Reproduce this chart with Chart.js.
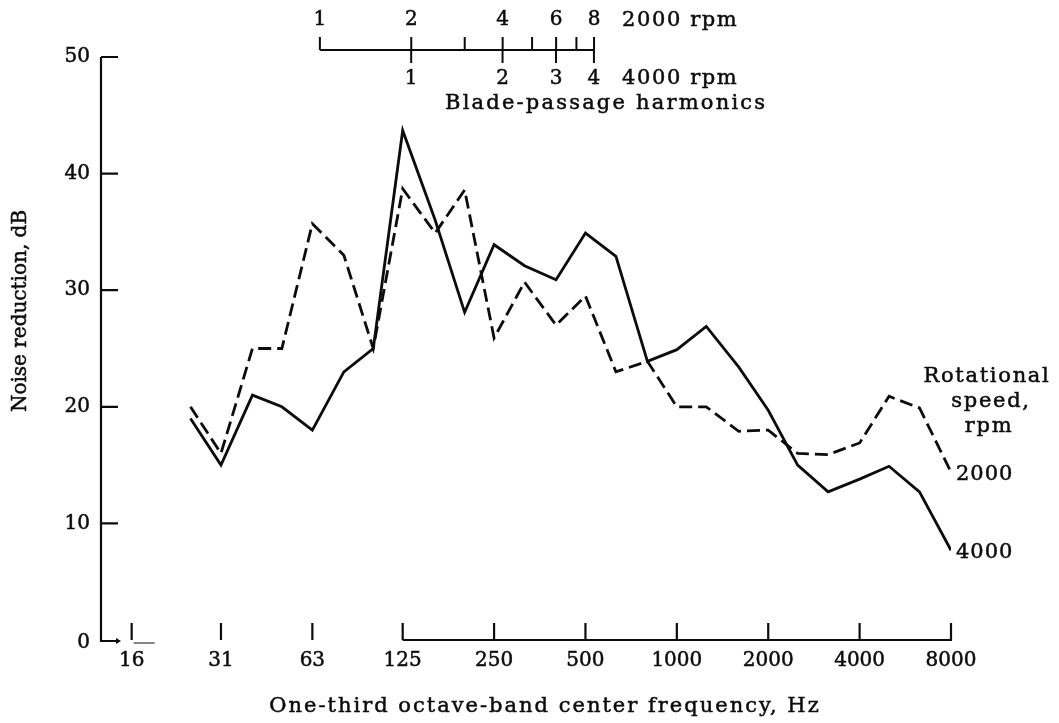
<!DOCTYPE html>
<html>
<head>
<meta charset="utf-8">
<script src="https://cdn.jsdelivr.net/npm/chart.js@4.4.1/dist/chart.umd.min.js"></script>
<style>
  html, body { margin: 0; padding: 0; background: #fff; }
  #wrap { width: 1059px; height: 723px; }
</style>
</head>
<body>
<div id="wrap"><canvas id="noiseChart" width="1059" height="723"></canvas></div>
<script>
// one-third octave band centre frequencies, Hz
const bandFreqs = [25, 31.5, 40, 50, 63, 80, 100, 125, 160, 200, 250, 315, 400, 500,
    630, 800, 1000, 1250, 1600, 2000, 2500, 3150, 4000, 5000, 6300, 8000];

// noise reduction, dB
const reduction4000 = [19, 15, 21, 20, 18, 23, 25, 43.7, 36, 28.1, 33.9, 32.1, 30.9, 34.9,
    32.9, 23.9, 24.9, 26.9, 23.4, 19.7, 15, 12.7, 13.8, 14.9, 12.7, 7.7];
const reduction2000 = [20, 16, 25, 25, 35.7, 33, 25, 38.7, 34.9, 38.6, 25.9, 30.7, 27, 29.5,
    23, 23.9, 20, 20, 17.9, 18, 16, 15.9, 16.9, 20.9, 19.9, 14.4];

// axis ticks
const xTickFreqs = [16, 31.5, 63, 125, 250, 500, 1000, 2000, 4000, 8000];
const xTickLabels = ['16', '31', '63', '125', '250', '500', '1000', '2000', '4000', '8000'];
const yTicks = [0, 10, 20, 30, 40, 50];

// blade-passage frequency (2 blades) and harmonic numbers
const bladeFreq2000 = 66.7;
const bladeFreq4000 = 133.3;
const harmonics2000 = [1, 2, 3, 4, 5, 6, 7, 8];
const harmonicLabels2000 = [1, 2, 4, 6, 8];
const harmonics4000 = [1, 2, 3, 4];

const INK = '#0c0c0c';
const NUM_FONT = '20px "DejaVu Serif"';
const TEXT_FONT = '21px "DejaVu Serif"';

function toPoints(ys) {
    return bandFreqs.map((f, i) => ({ x: f, y: ys[i] }));
}

// filled text with a hairline stroke so it reads as heavy as printed type
function inkText(ctx, str, x, y) {
    ctx.fillText(str, x, y);
    ctx.strokeText(str, x, y);
}

const axesPlugin = {
    id: 'paperAxes',
    afterDraw(chart) {
        const ctx = chart.ctx;
        const xs = chart.scales.x;
        const ys = chart.scales.y;
        const area = chart.chartArea;
        const bottom = ys.getPixelForValue(0);
        const left = area.left;

        ctx.save();
        ctx.strokeStyle = INK;
        ctx.fillStyle = INK;
        ctx.lineWidth = 2.2;
        ctx.lineCap = 'butt';

        // y axis with inward ticks
        ctx.beginPath();
        ctx.moveTo(left, ys.getPixelForValue(50));
        ctx.lineTo(left, bottom + 1);
        ctx.lineTo(left + 17, bottom + 1);
        yTicks.forEach(v => {
            if (v === 0) return;
            const y = ys.getPixelForValue(v);
            ctx.moveTo(left, y);
            ctx.lineTo(left + 17, y);
        });
        ctx.stroke();
        ctx.beginPath();
        ctx.moveTo(left + 20, bottom + 1);
        ctx.lineTo(left + 15, bottom - 2);
        ctx.lineTo(left + 15, bottom + 4);
        ctx.closePath();
        ctx.fill();

        // x axis: upward ticks, line only from 125 Hz on
        ctx.beginPath();
        xTickFreqs.forEach(f => {
            const x = xs.getPixelForValue(f);
            ctx.moveTo(x, bottom - 17);
            ctx.lineTo(x, bottom);
        });
        ctx.moveTo(xs.getPixelForValue(125), bottom);
        ctx.lineTo(xs.getPixelForValue(8000) + 1, bottom);
        ctx.stroke();
        ctx.lineWidth = 1;
        ctx.beginPath();
        const x16 = xs.getPixelForValue(16);
        ctx.moveTo(x16 + 2, bottom + 3);
        ctx.lineTo(x16 + 23, bottom + 3);
        ctx.stroke();

        // blade-passage harmonic scale
        const lineY = 50;
        const hx2000 = h => xs.getPixelForValue(h * bladeFreq2000);
        const hx4000 = h => xs.getPixelForValue(h * bladeFreq4000);
        ctx.lineWidth = 2;
        ctx.beginPath();
        ctx.moveTo(hx2000(1), lineY);
        ctx.lineTo(hx2000(8), lineY);
        harmonics2000.forEach(h => {
            ctx.moveTo(hx2000(h), lineY - 13);
            ctx.lineTo(hx2000(h), lineY);
        });
        harmonics4000.forEach(h => {
            ctx.moveTo(hx4000(h), lineY);
            ctx.lineTo(hx4000(h), lineY + 13);
        });
        ctx.stroke();

        // numbers
        ctx.lineWidth = 0.5;
        ctx.font = NUM_FONT;
        ctx.textAlign = 'right';
        ctx.textBaseline = 'middle';
        yTicks.forEach(v => {
            inkText(ctx, String(v), left - 11, ys.getPixelForValue(v) + (v === 0 ? 3 : 0));
        });
        ctx.textAlign = 'center';
        xTickFreqs.forEach((f, i) => {
            inkText(ctx, xTickLabels[i], xs.getPixelForValue(f), bottom + 21);
        });
        harmonicLabels2000.forEach(h => inkText(ctx, String(h), hx2000(h), 20));
        harmonics4000.forEach(h => inkText(ctx, String(h), hx4000(h), 79));

        // axis titles
        ctx.font = '20px "DejaVu Serif"';
        ctx.save();
        ctx.translate(21, 311);
        ctx.rotate(-Math.PI / 2);
        inkText(ctx, 'Noise reduction, dB', 0, 0);
        ctx.restore();

        ctx.font = TEXT_FONT;
        ctx.letterSpacing = '2px';
        inkText(ctx, 'One-third octave-band center frequency, Hz', 545, 707);

        ctx.textAlign = 'left';
        ctx.letterSpacing = '1.6px';
        inkText(ctx, '2000 rpm', hx2000(8) + 28, 21);
        inkText(ctx, '4000 rpm', hx2000(8) + 28, 79);
        ctx.letterSpacing = '2.2px';
        inkText(ctx, 'Blade-passage harmonics', 445, 104);

        // curve labels
        ctx.letterSpacing = '1.7px';
        ctx.textAlign = 'center';
        inkText(ctx, 'Rotational', 987, 377);
        inkText(ctx, 'speed,', 991, 402);
        inkText(ctx, 'rpm', 989, 427);
        ctx.textAlign = 'left';
        ctx.letterSpacing = '1px';
        inkText(ctx, '2000', 956, ys.getPixelForValue(reduction2000[reduction2000.length - 1]) + 2);
        inkText(ctx, '4000', 956, ys.getPixelForValue(reduction4000[reduction4000.length - 1]) + 2);

        ctx.restore();
    }
};

new Chart(document.getElementById('noiseChart').getContext('2d'), {
    type: 'line',
    data: {
        datasets: [
            {
                label: '4000',
                data: toPoints(reduction4000),
                borderColor: INK,
                borderWidth: 2.8,
                pointRadius: 0,
                tension: 0,
                fill: false
            },
            {
                label: '2000',
                data: toPoints(reduction2000),
                borderColor: INK,
                borderWidth: 2.8,
                borderDash: [13, 6],
                pointRadius: 0,
                tension: 0,
                fill: false
            }
        ]
    },
    options: {
        responsive: false,
        animation: false,
        layout: { padding: { left: 101, right: 108, top: 57, bottom: 83 } },
        scales: {
            x: { type: 'logarithmic', min: 12.68, max: 8000, display: false },
            y: { type: 'linear', min: 0, max: 50, display: false }
        },
        plugins: {
            legend: { display: false },
            tooltip: { enabled: false }
        }
    },
    plugins: [axesPlugin]
});
</script>
</body>
</html>
